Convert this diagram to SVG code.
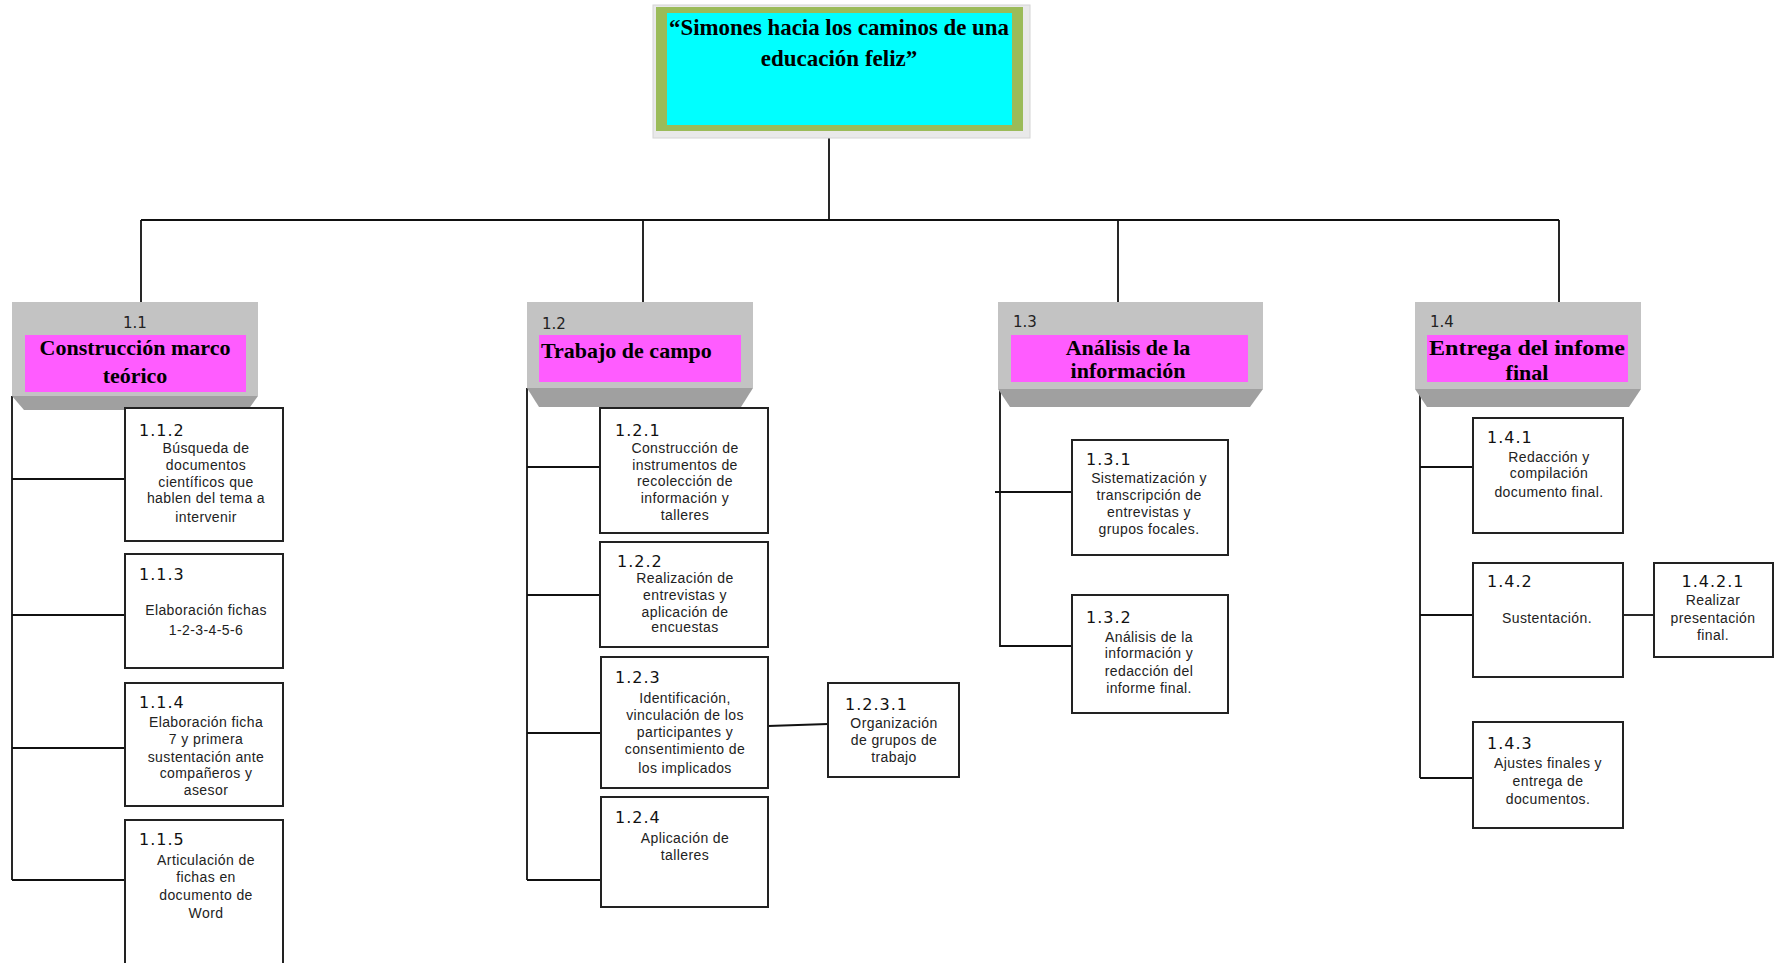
<svg xmlns="http://www.w3.org/2000/svg" width="1779" height="963" viewBox="0 0 1779 963">
<style>
.bg{fill:#ffffff}
.ln{stroke:#111;stroke-width:1.8;fill:none}
.box{fill:#fff;stroke:#222;stroke-width:2}
.l1{fill:#c3c3c3}
.bev{fill:#a0a0a0}
.mag{fill:#ff5cff}
.num{font-family:"DejaVu Sans",Verdana,sans-serif;font-size:16px;fill:#111;letter-spacing:1px}
.num1{font-family:"DejaVu Sans",Verdana,sans-serif;font-size:15px;fill:#222}
.hd{font-family:"Liberation Serif","Times New Roman",serif;font-weight:bold;font-size:22px;fill:#000}
.ds{font-family:"Liberation Sans",Arial,sans-serif;font-size:14px;letter-spacing:0.4px;fill:#222;text-anchor:middle}
.c{text-anchor:middle}
</style>
<rect class="bg" x="0" y="0" width="1779" height="963"/>

<g id="connectors">
  <path class="ln" d="M829,138 V220 M141,220 H1559 M141,220 V302 M643,220 V302 M1118,220 V302 M1559,220 V302"/>
  <path class="ln" d="M12,396 V880 M12,479 H125 M12,615 H125 M12,748 H125 M12,880 H125"/>
  <path class="ln" d="M527,388 V880 M527,467 H600 M527,595 H600 M527,733 H601 M527,880 H601"/>
  <path class="ln" d="M768,726 L828,724"/>
  <path class="ln" d="M1000,389 V647 M995,492 H1072 M1000,646 H1072"/>
  <path class="ln" d="M1420,389 V778 M1420,467 H1473 M1420,615 H1473 M1420,778 H1473"/>
  <path class="ln" d="M1623,615 H1654"/>
</g>

<g id="root">
  <rect x="653" y="5" width="377" height="133" fill="#e9e9e9" stroke="#d4d4d4" stroke-width="1"/>
  <rect x="656" y="7" width="367" height="124" fill="#9bbb59"/>
  <rect x="667" y="13" width="345" height="112" fill="#00ffff"/>
  <text class="hd c" x="839" y="35" style="font-size:23px" textLength="340" lengthAdjust="spacingAndGlyphs">“Simones hacia los caminos de una</text>
  <text class="hd c" x="839" y="66" style="font-size:23px">educación feliz”</text>
</g>

<g id="n1_1">
  <rect class="l1" x="12" y="302" width="246" height="94"/>
  <polygon class="bev" points="12,396 258,396 248,410 24,410"/>
  <rect class="mag" x="25" y="335" width="221" height="57"/>
  <text class="num1 c" x="135" y="328">1.1</text>
  <text class="hd c" x="135" y="355">Construcción marco</text>
  <text class="hd c" x="135" y="383">teórico</text>
</g>
<g id="n1_2">
  <rect class="l1" x="527" y="302" width="226" height="86"/>
  <polygon class="bev" points="527,388 753,388 741,407 539,407"/>
  <rect class="mag" x="539" y="335" width="202" height="47"/>
  <text class="num1" x="542" y="329">1.2</text>
  <text class="hd" x="541" y="358">Trabajo de campo</text>
</g>
<g id="n1_3">
  <rect class="l1" x="998" y="302" width="265" height="87"/>
  <polygon class="bev" points="998,389 1263,389 1250,407 1010,407"/>
  <rect class="mag" x="1011" y="335" width="237" height="47"/>
  <text class="num1" x="1013" y="327">1.3</text>
  <text class="hd c" x="1128" y="355">Análisis de la</text>
  <text class="hd c" x="1128" y="378">información</text>
</g>
<g id="n1_4">
  <rect class="l1" x="1415" y="302" width="226" height="87"/>
  <polygon class="bev" points="1415,389 1641,389 1629,407 1427,407"/>
  <rect class="mag" x="1427" y="335" width="201" height="47"/>
  <text class="num1" x="1430" y="327">1.4</text>
  <text class="hd c" x="1527" y="355" textLength="196" lengthAdjust="spacingAndGlyphs">Entrega del infome</text>
  <text class="hd c" x="1527" y="380">final</text>
</g>

<g id="n1_1_2">
  <rect class="box" x="125" y="408" width="158" height="133"/>
  <text class="num" x="139" y="436">1.1.2</text>
  <text class="ds" x="206"><tspan x="206" y="453">Búsqueda de</tspan><tspan x="206" y="470">documentos</tspan><tspan x="206" y="487">científicos  que</tspan><tspan x="206" y="503">hablen  del tema  a</tspan><tspan x="206" y="522">intervenir</tspan></text>
</g>
<g id="n1_1_3">
  <rect class="box" x="125" y="554" width="158" height="114"/>
  <text class="num" x="139" y="580">1.1.3</text>
  <text class="ds" x="206"><tspan x="206" y="615">Elaboración fichas</tspan><tspan x="206" y="635">1-2-3-4-5-6</tspan></text>
</g>
<g id="n1_1_4">
  <rect class="box" x="125" y="683" width="158" height="123"/>
  <text class="num" x="139" y="708">1.1.4</text>
  <text class="ds" x="206"><tspan x="206" y="727">Elaboración ficha</tspan><tspan x="206" y="744">7 y  primera</tspan><tspan x="206" y="762">sustentación  ante</tspan><tspan x="206" y="778">compañeros  y</tspan><tspan x="206" y="795">asesor</tspan></text>
</g>
<g id="n1_1_5">
  <rect class="box" x="125" y="820" width="158" height="160"/>
  <text class="num" x="139" y="845">1.1.5</text>
  <text class="ds" x="206"><tspan x="206" y="865">Articulación de</tspan><tspan x="206" y="882">fichas en</tspan><tspan x="206" y="900">documento  de</tspan><tspan x="206" y="918">Word</tspan></text>
</g>

<g id="n1_2_1">
  <rect class="box" x="600" y="408" width="168" height="125"/>
  <text class="num" x="615" y="436">1.2.1</text>
  <text class="ds" x="685"><tspan x="685" y="453">Construcción de</tspan><tspan x="685" y="470">instrumentos  de</tspan><tspan x="685" y="486">recolección de</tspan><tspan x="685" y="503">información   y</tspan><tspan x="685" y="520">talleres</tspan></text>
</g>
<g id="n1_2_2">
  <rect class="box" x="600" y="542" width="168" height="105"/>
  <text class="num" x="617" y="567">1.2.2</text>
  <text class="ds" x="685"><tspan x="685" y="583">Realización de</tspan><tspan x="685" y="600">entrevistas  y</tspan><tspan x="685" y="617">aplicación de</tspan><tspan x="685" y="632">encuestas</tspan></text>
</g>
<g id="n1_2_3">
  <rect class="box" x="601" y="657" width="167" height="131"/>
  <text class="num" x="615" y="683">1.2.3</text>
  <text class="ds" x="685"><tspan x="685" y="703">Identificación,</tspan><tspan x="685" y="720">vinculación  de los</tspan><tspan x="685" y="737">participantes y</tspan><tspan x="685" y="754">consentimiento  de</tspan><tspan x="685" y="773">los implicados</tspan></text>
</g>
<g id="n1_2_3_1">
  <rect class="box" x="828" y="683" width="131" height="94"/>
  <text class="num" x="845" y="710">1.2.3.1</text>
  <text class="ds" x="894"><tspan x="894" y="728">Organización</tspan><tspan x="894" y="745">de  grupos de</tspan><tspan x="894" y="762">trabajo</tspan></text>
</g>
<g id="n1_2_4">
  <rect class="box" x="601" y="797" width="167" height="110"/>
  <text class="num" x="615" y="823">1.2.4</text>
  <text class="ds" x="685"><tspan x="685" y="843">Aplicación de</tspan><tspan x="685" y="860">talleres</tspan></text>
</g>

<g id="n1_3_1">
  <rect class="box" x="1072" y="440" width="156" height="115"/>
  <text class="num" x="1086" y="465">1.3.1</text>
  <text class="ds" x="1149"><tspan x="1149" y="483">Sistematización  y</tspan><tspan x="1149" y="500">transcripción de</tspan><tspan x="1149" y="517">entrevistas  y</tspan><tspan x="1149" y="534">grupos focales.</tspan></text>
</g>
<g id="n1_3_2">
  <rect class="box" x="1072" y="595" width="156" height="118"/>
  <text class="num" x="1086" y="623">1.3.2</text>
  <text class="ds" x="1149"><tspan x="1149" y="642">Análisis de  la</tspan><tspan x="1149" y="658">información y</tspan><tspan x="1149" y="676">redacción del</tspan><tspan x="1149" y="693">informe final.</tspan></text>
</g>

<g id="n1_4_1">
  <rect class="box" x="1473" y="418" width="150" height="115"/>
  <text class="num" x="1487" y="443">1.4.1</text>
  <text class="ds" x="1549"><tspan x="1549" y="462">Redacción y</tspan><tspan x="1549" y="478">compilación</tspan><tspan x="1549" y="497">documento   final.</tspan></text>
</g>
<g id="n1_4_2">
  <rect class="box" x="1473" y="563" width="150" height="114"/>
  <text class="num" x="1487" y="587">1.4.2</text>
  <text class="ds" x="1547" y="623">Sustentación.</text>
</g>
<g id="n1_4_2_1">
  <rect class="box" x="1654" y="563" width="119" height="94"/>
  <text class="num c" x="1713" y="587">1.4.2.1</text>
  <text class="ds" x="1713"><tspan x="1713" y="605">Realizar</tspan><tspan x="1713" y="623">presentación</tspan><tspan x="1713" y="640">final.</tspan></text>
</g>
<g id="n1_4_3">
  <rect class="box" x="1473" y="722" width="150" height="106"/>
  <text class="num" x="1487" y="749">1.4.3</text>
  <text class="ds" x="1548"><tspan x="1548" y="768">Ajustes finales y</tspan><tspan x="1548" y="786">entrega  de</tspan><tspan x="1548" y="804">documentos.</tspan></text>
</g>
</svg>
